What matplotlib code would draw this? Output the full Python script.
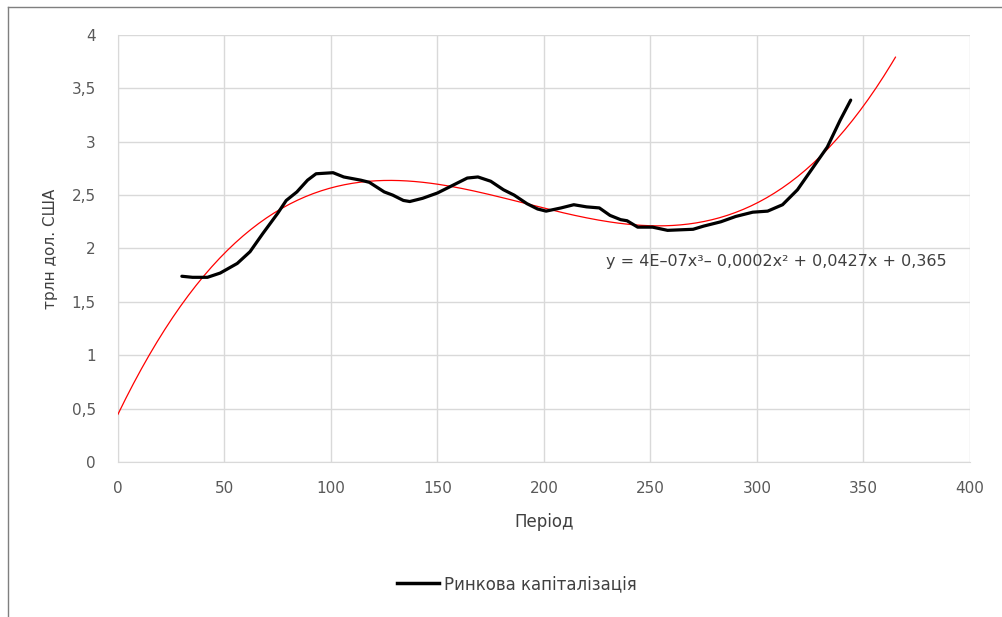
import numpy as np
import matplotlib
matplotlib.use("Agg")
import matplotlib.pyplot as plt
from matplotlib.lines import Line2D

# Ринкова капіталізація
period = [30, 35, 42, 48, 56, 62, 68, 75, 79, 84, 89, 93, 101, 106, 114,
          118, 125, 129, 134, 137, 143, 150, 157, 164, 169, 175, 181, 186,
          192, 197, 201, 208, 214, 220, 226, 231, 236, 239, 244, 251, 258,
          270, 275, 283, 290, 298, 305, 312, 319, 326, 333, 339, 344]
market_cap = [1.74, 1.73, 1.73, 1.77, 1.86, 1.97, 2.14, 2.33, 2.45, 2.53,
              2.64, 2.70, 2.71, 2.67, 2.64, 2.62, 2.53, 2.50, 2.45, 2.44,
              2.47, 2.52, 2.59, 2.66, 2.67, 2.63, 2.55, 2.50, 2.42, 2.37,
              2.35, 2.38, 2.41, 2.39, 2.38, 2.31, 2.27, 2.26, 2.20, 2.20,
              2.17, 2.18, 2.21, 2.25, 2.30, 2.34, 2.35, 2.41, 2.55, 2.75,
              2.95, 3.20, 3.39]

x_ticks = [0, 50, 100, 150, 200, 250, 300, 350, 400]
y_ticks = [0, 0.5, 1, 1.5, 2, 2.5, 3, 3.5, 4]
y_labels = ["0", "0,5", "1", "1,5", "2", "2,5", "3", "3,5", "4"]
equation = "y = 4E\u201307x\u00b3\u2013 0,0002x\u00b2 + 0,0427x + 0,365"

# polynomial trendline (3rd order), backward 30 / forward 20 periods
trend_from, trend_to = 0, 365

font = ["DejaVu Sans"]
txt = "#404040"
grey = "#595959"

fig = plt.figure(figsize=(10.03, 6.17), dpi=100)
ax = fig.add_axes([0.1176, 0.2512, 0.8495, 0.6921])

coef = np.polyfit(period, market_cap, 3)
tx = np.linspace(trend_from, trend_to, 200)
ax.plot(tx, np.polyval(coef, tx), color="#ff0000", lw=0.9, zorder=3)
ax.plot(period, market_cap, color="black", lw=2.3, zorder=4,
        solid_capstyle="round", solid_joinstyle="round")

ax.set_xlim(0, 400)
ax.set_ylim(0, 4)
ax.set_xticks(x_ticks)
ax.set_yticks(y_ticks)
ax.set_xticklabels([str(v) for v in x_ticks], family=font, fontsize=11, color=grey)
ax.set_yticklabels(y_labels, family=font, fontsize=11, color=grey)
ax.tick_params(length=0)
ax.tick_params(axis="x", pad=14)
ax.tick_params(axis="y", pad=16)
ax.grid(True, color="#d9d9d9", lw=1)
ax.set_axisbelow(True)
for s in ["top", "right"]:
    ax.spines[s].set_visible(False)
for s in ["left", "bottom"]:
    ax.spines[s].set_color("#d9d9d9")

ax.set_xlabel("Період", family=font, fontsize=12, color=txt, labelpad=12)
ax.set_ylabel("трлн дол. США", family=font, fontsize=11, color=txt, labelpad=10)

ax.text(0.573, 0.47, equation, transform=ax.transAxes, family=font,
        fontsize=11.5, color=txt, ha="left", va="center")

handle = Line2D([], [], color="black", lw=2.5)
fig.legend([handle], ["Ринкова капіталізація"], loc="center",
           bbox_to_anchor=(0.515, 0.053), frameon=False, handlelength=2.5,
           handletextpad=0.3, prop={"family": font, "size": 12},
           labelcolor=txt)

# chart frame (only top and left edge are visible in the crop)
fig.add_artist(Line2D([8 / 1003, 1], [1 - 7 / 617, 1 - 7 / 617],
                      transform=fig.transFigure, color="#7f7f7f", lw=1))
fig.add_artist(Line2D([8 / 1003, 8 / 1003], [0, 1 - 7 / 617],
                      transform=fig.transFigure, color="#7f7f7f", lw=1))

fig.savefig("out.png", dpi=100)
